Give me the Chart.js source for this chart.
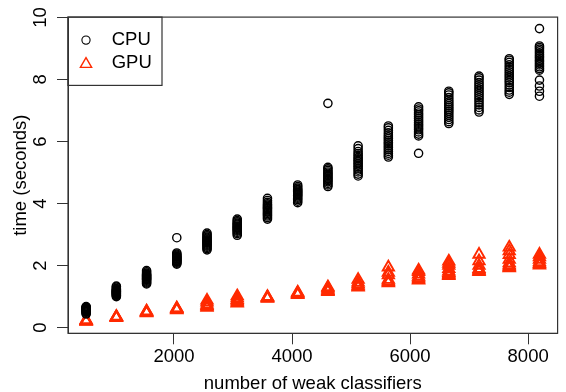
<!DOCTYPE html>
<html><head><meta charset="utf-8">
<script src="https://cdn.jsdelivr.net/npm/chart.js@4.4.1/dist/chart.umd.min.js"></script>
<style>html,body{margin:0;padding:0;background:#fff}#wrap{width:566px;height:392px;position:relative}</style>
</head><body><div id="wrap"><canvas id="c"></canvas></div>
<script>
// number of weak classifiers (x positions of the columns)
const classifiers = [512,1024,1536,2048,2560,3072,3584,4096,4608,5120,5632,6144,6656,7168,7680,8192];
// CPU run times (seconds), one list per column
const cpuTimes = [
  [0.44,0.47,0.5,0.52,0.53,0.55,0.56,0.57,0.58,0.59,0.6,0.61,0.62,0.63,0.64,0.66,0.68],
  [1.0,1.03,1.05,1.07,1.09,1.1,1.12,1.13,1.15,1.16,1.17,1.19,1.2,1.22,1.24,1.27,1.31,1.34],
  [1.41,1.44,1.47,1.5,1.53,1.55,1.57,1.59,1.61,1.63,1.65,1.67,1.69,1.71,1.73,1.76,1.8,1.84],
  [2.05,2.08,2.11,2.13,2.15,2.17,2.19,2.21,2.23,2.25,2.27,2.29,2.31,2.34,2.37,2.41,2.9],
  [2.51,2.55,2.59,2.63,2.66,2.69,2.72,2.75,2.78,2.8,2.83,2.86,2.89,2.92,2.96,3.0,3.05],
  [2.98,3.03,3.07,3.11,3.14,3.17,3.2,3.22,3.25,3.28,3.31,3.34,3.37,3.41,3.45,3.5],
  [3.5,3.55,3.6,3.64,3.68,3.72,3.76,3.8,3.84,3.87,3.91,3.95,3.99,4.04,4.1,4.17],
  [4.03,4.08,4.13,4.17,4.21,4.25,4.28,4.31,4.34,4.37,4.4,4.43,4.46,4.5,4.55,4.6],
  [4.55,4.6,4.65,4.7,4.74,4.78,4.82,4.86,4.9,4.94,4.98,5.02,5.07,5.12,5.17,7.23],
  [4.89,4.95,5.02,5.08,5.14,5.19,5.24,5.29,5.34,5.39,5.44,5.49,5.55,5.61,5.68,5.77,5.86],
  [5.5,5.56,5.62,5.68,5.74,5.8,5.86,5.92,5.97,6.03,6.09,6.15,6.21,6.28,6.36,6.44,6.5],
  [5.62,6.18,6.24,6.31,6.38,6.44,6.5,6.56,6.62,6.68,6.74,6.8,6.86,6.92,6.99,7.05,7.12],
  [6.58,6.64,6.71,6.78,6.85,6.92,6.98,7.04,7.1,7.16,7.22,7.28,7.35,7.42,7.5,7.57,7.62],
  [6.95,7.02,7.1,7.18,7.26,7.34,7.41,7.48,7.55,7.62,7.69,7.76,7.83,7.9,7.98,8.05,8.11],
  [7.52,7.59,7.66,7.74,7.82,7.9,7.97,8.04,8.11,8.18,8.25,8.32,8.39,8.47,8.55,8.62,8.67],
  [7.46,7.62,7.79,7.98,8.3,8.35,8.41,8.47,8.52,8.58,8.63,8.69,8.74,8.8,8.86,8.92,8.98,9.03,9.08,9.64]
];
// GPU run times (seconds), one list per column
const gpuTimes = [
  [0.2,0.21,0.22,0.23,0.25],
  [0.32,0.33,0.34,0.35,0.36],
  [0.47,0.49,0.5,0.52,0.53],
  [0.57,0.59,0.6,0.62,0.63],
  [0.65,0.68,0.71,0.75,0.82,0.88],
  [0.79,0.82,0.86,0.9,0.96,1.02],
  [0.94,0.96,0.97,0.98,1.0],
  [1.06,1.08,1.1,1.12,1.14],
  [1.16,1.18,1.2,1.24,1.28,1.31],
  [1.3,1.33,1.36,1.41,1.46,1.55],
  [1.44,1.47,1.5,1.55,1.7,1.78,1.95],
  [1.53,1.56,1.6,1.65,1.72,1.8,1.85],
  [1.67,1.7,1.73,1.77,1.82,1.9,2.0,2.07,2.14],
  [1.8,1.83,1.86,1.9,2.0,2.15,2.36],
  [1.92,1.95,1.98,2.02,2.08,2.2,2.35,2.47,2.59],
  [2.01,2.04,2.07,2.12,2.2,2.28,2.36]
];
const seriesNames = ['CPU','GPU'];
const xTicks = [2000,4000,6000,8000];
const yTicks = [0,2,4,6,8,10];
const xTitle = 'number of weak classifiers';
const yTitle = 'time (seconds)';

const FONT_FAMILY = '"Liberation Sans", Arial, Helvetica, sans-serif';
const FONT_SIZE = 18.5;
const AXIS_COLOR = '#333';
const CPU_COLOR = '#000000';
const GPU_COLOR = '#ff2a00';

function toPoints(times){
  const pts = [];
  classifiers.forEach((n,i)=>times[i].forEach(t=>pts.push({x:n,y:t})));
  return pts;
}

const boxAndLegend = {
  id: 'boxAndLegend',
  afterDatasetsDraw(chart){
    const ctx = chart.ctx, a = chart.chartArea;
    ctx.save();
    ctx.strokeStyle = AXIS_COLOR;
    ctx.lineWidth = 1.2;
    ctx.strokeRect(a.left, a.top, a.right - a.left, a.bottom - a.top);
    // legend box
    const lx = a.left, ly = a.top, lw = 94, lh = 68.3;
    ctx.strokeRect(lx, ly, lw, lh);
    ctx.font = FONT_SIZE + 'px ' + FONT_FAMILY;
    ctx.textAlign = 'left';
    ctx.textBaseline = 'middle';
    ctx.fillStyle = '#000';
    const rows = [ly + 23, ly + 45.5];
    chart.data.datasets.forEach((ds, i) => {
      const cx = lx + 18, cy = rows[i];
      ctx.beginPath();
      ctx.strokeStyle = ds.borderColor;
      ctx.lineWidth = ds.pointStyle === 'circle' ? 1.1 : 1.4;
      if (ds.pointStyle === 'circle') {
        ctx.arc(cx, cy, ds.pointRadius, 0, Math.PI * 2);
      } else {
        const r = ds.pointRadius;
        for (let k = 0; k < 3; k++) {
          const ang = k * 2 * Math.PI / 3;
          const px = cx + Math.sin(ang) * r, py = cy - Math.cos(ang) * r + 1.5;
          if (k === 0) ctx.moveTo(px, py); else ctx.lineTo(px, py);
        }
        ctx.closePath();
      }
      ctx.stroke();
      ctx.fillStyle = '#000';
      ctx.fillText(ds.label, lx + 43.7, cy);
    });
    ctx.restore();
  }
};

new Chart(document.getElementById('c'), {
  type: 'scatter',
  data: {
    datasets: [
      { label: seriesNames[0], data: toPoints(cpuTimes), pointStyle: 'circle', pointRadius: 4.1,
        pointHoverRadius: 4.1, borderColor: CPU_COLOR, backgroundColor: 'rgba(0,0,0,0)', borderWidth: 1.4 },
      { label: seriesNames[1], data: toPoints(gpuTimes), pointStyle: 'triangle', pointRadius: 6.5,
        pointHoverRadius: 6.5, borderColor: GPU_COLOR, backgroundColor: 'rgba(0,0,0,0)', borderWidth: 1.9 }
    ]
  },
  options: {
    responsive: true,
    maintainAspectRatio: false,
    animation: false,
    devicePixelRatio: 1,
    layout: { padding: { left: 0, top: 16, right: 2, bottom: 0 } },
    plugins: { legend: { display: false }, tooltip: { enabled: false } },
    font: { family: FONT_FAMILY, size: FONT_SIZE },
    scales: {
      x: {
        type: 'linear', min: 204.8, max: 8499.2,
        afterBuildTicks: s => { s.ticks = xTicks.map(v => ({ value: v })); },
        afterFit: s => { s.height = 392 - 333.3; },
        grid: { drawOnChartArea: false, drawTicks: true, tickLength: 11, color: AXIS_COLOR, lineWidth: 1 },
        border: { display: true, color: AXIS_COLOR, width: 1 },
        ticks: { color: '#000', padding: 2, maxRotation: 0, autoSkip: false,
                 font: { family: FONT_FAMILY, size: FONT_SIZE }, callback: v => String(v) },
        title: { display: true, text: xTitle, color: '#000', font: { family: FONT_FAMILY, size: FONT_SIZE },
                 padding: { top: 0, bottom: -3 } }
      },
      y: {
        type: 'linear', min: -0.18, max: 10.01,
        afterBuildTicks: s => { s.ticks = yTicks.map(v => ({ value: v })); },
        afterFit: s => { s.width = 68; },
        grid: { drawOnChartArea: false, drawTicks: true, tickLength: 11, color: AXIS_COLOR, lineWidth: 1 },
        border: { display: true, color: AXIS_COLOR, width: 1 },
        ticks: { color: '#000', padding: 6, minRotation: 90, maxRotation: 90, crossAlign: 'center', autoSkip: false,
                 font: { family: FONT_FAMILY, size: FONT_SIZE }, callback: v => String(v) },
        title: { display: true, text: yTitle, color: '#000', font: { family: FONT_FAMILY, size: FONT_SIZE },
                 padding: { top: 10, bottom: 0 } }
      }
    }
  },
  plugins: [boxAndLegend]
});
</script></body></html>
